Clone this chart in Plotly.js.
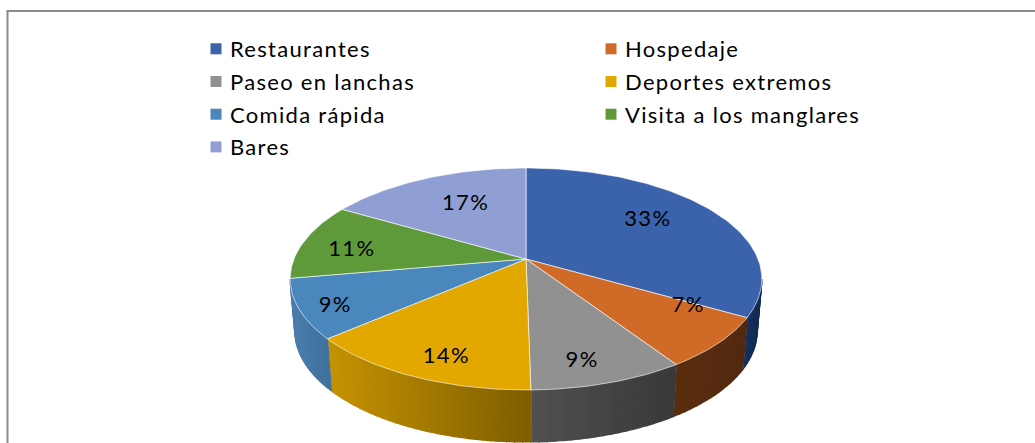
<!DOCTYPE html>
<html>
<head>
<meta charset="utf-8">
<script src="https://cdn.plot.ly/plotly-3.0.1.min.js"></script>
<style>
html,body{margin:0;padding:0;background:#fff}
#chart{width:1035px;height:443px}
.legendpoints .scatterpts{transform:translate(26px,0)}
.legendtext,.legend2text{letter-spacing:1.3px}
.textpoint text{letter-spacing:1.4px}
</style>
</head>
<body>
<div id="chart"></div>
<script>
// Data
const categories = ["Restaurantes","Hospedaje","Paseo en lanchas","Deportes extremos","Comida rápida","Visita a los manglares","Bares"];
const shares = [33.3,7.45,9.0,13.9,8.6,11.2,16.6];

// Styles
const topColors = ["#3a63ab","#d06b27","#919191","#e2a800","#4a87bd","#5f9a3a","#8f9fd3"];
const wallFrom = ["#15305c","#5a2c0e","#505050","#c49200","#4a7dab","#4a7a2c","#6f7da8"];
const wallTo   = ["#122a50","#512a10","#383838","#7c5c00","#40709c","#4a7a2c","#6f7da8"];
const labelRadius = [0.697,0.749,0.816,0.811,0.853,0.77,0.666];
const labelNudgeDeg = [-3.9,-10.7,3,-3.4,-2.6,-3.9,2.9];

// Projection of the tilted disc, in page pixels
const CX=526, APEX_Y=259, RX=232, RY=107.4, TILT=0.18, DEPTH=52, SHRINK=0.98;
function topPoint(a){
  const u=Math.sin(a), v=Math.cos(a), w=1+TILT*v;
  return [CX+RX*u/w, APEX_Y-RY*v/w];
}
function basePoint(a){
  const p=topPoint(a);
  return [CX+(p[0]-CX)*SHRINK, p[1]+DEPTH];
}
function hex(c){return [1,3,5].map(i=>parseInt(c.substr(i,2),16));}
function mix(a,b,t){
  const x=hex(a),y=hex(b);
  return "rgb("+x.map((v,i)=>Math.round(v+(y[i]-v)*t)).join(",")+")";
}

const total=shares.reduce((s,v)=>s+v,0);
const traces=[];
let cum=0;
const slices=shares.map(v=>{const s={a0:cum/total*2*Math.PI};cum+=v;s.a1=cum/total*2*Math.PI;return s;});

// Walls: only the part of the rim that faces the viewer
const FACE0=100.4*Math.PI/180, FACE1=259.6*Math.PI/180;
slices.forEach((s,i)=>{
  const a0=Math.max(s.a0,FACE0), a1=Math.min(s.a1,FACE1);
  if(a1<=a0) return;
  const n=Math.max(2,Math.ceil((a1-a0)/0.03));
  const pa=topPoint(a0)[0], pb=topPoint(a1)[0];
  for(let k=0;k<n;k++){
    const b0=a0+(a1-a0)*k/n, b1=a0+(a1-a0)*(k+1)/n;
    const p0=topPoint(b0),p1=topPoint(b1),q1=basePoint(b1),q0=basePoint(b0);
    const t=(Math.min(p0[0],p1[0])-Math.min(pa,pb))/Math.abs(pa-pb);
    // colour runs left to right over the slice
    const col=mix(wallFrom[i],wallTo[i],Math.max(0,Math.min(1,t)));
    traces.push({type:"scatter",mode:"lines",x:[p0[0],p1[0],q1[0],q0[0],p0[0]],y:[p0[1],p1[1],q1[1],q0[1],p0[1]],
      fill:"toself",fillcolor:col,line:{color:col,width:1.3},hoverinfo:"skip",showlegend:false});
  }
  // pale seam on the wall
  if(s.a1<FACE1){
    const p=topPoint(s.a1),q=basePoint(s.a1);
    traces.push({type:"scatter",mode:"lines",x:[p[0],q[0]],y:[p[1],q[1]],line:{color:"rgba(255,255,255,0.55)",width:1},hoverinfo:"skip",showlegend:false});
  }
});

// Top faces
slices.forEach((s,i)=>{
  const n=Math.ceil((s.a1-s.a0)/0.02), xs=[CX], ys=[APEX_Y];
  for(let k=0;k<=n;k++){const p=topPoint(s.a0+(s.a1-s.a0)*k/n);xs.push(p[0]);ys.push(p[1]);}
  xs.push(CX);ys.push(APEX_Y);
  traces.push({type:"scatter",mode:"lines",x:xs,y:ys,fill:"toself",fillcolor:topColors[i],
    line:{color:"rgba(255,255,255,0.6)",width:1},hoverinfo:"skip",showlegend:false});
});

// Percent labels placed near the slice bisector
const lx=[],ly=[],lt=[];
slices.forEach((s,i)=>{
  const mid=(s.a0+s.a1)/2+labelNudgeDeg[i]*Math.PI/180, p=topPoint(mid);
  lx.push(CX+(p[0]-CX)*labelRadius[i]);
  ly.push(APEX_Y+(p[1]-APEX_Y)*labelRadius[i]);
  lt.push(Math.round(shares[i]/total*100)+"%");
});
traces.push({type:"scatter",mode:"text",x:lx,y:ly,text:lt,textposition:"middle center",
  textfont:{family:"Lato, sans-serif",size:22,color:"#000"},hoverinfo:"skip",showlegend:false});

// Legend entries, two columns
categories.forEach((c,i)=>{
  traces.push({type:"scatter",mode:"markers",x:[null],y:[null],name:c,legendgroup:"g"+i,
    legend:i%2===0?"legend":"legend2",
    marker:{symbol:"square",size:11,color:topColors[i]},hoverinfo:"skip"});
});

const legendBase={xanchor:"left",yanchor:"top",orientation:"v",bgcolor:"rgba(0,0,0,0)",borderwidth:0,
  tracegroupgap:1.1,traceorder:"grouped",entrywidth:340,entrywidthmode:"pixels",
  font:{family:"Lato, sans-serif",size:22,color:"#000"},itemclick:false,itemdoubleclick:false};

const layout={
  width:1035,height:443,margin:{l:0,r:0,t:0,b:0},
  paper_bgcolor:"#fff",plot_bgcolor:"#fff",
  xaxis:{range:[0,1035],visible:false,fixedrange:true},
  yaxis:{range:[443,0],visible:false,fixedrange:true},
  showlegend:true,
  legend:Object.assign({},legendBase,{x:190/1035,y:1-28/443}),
  legend2:Object.assign({},legendBase,{x:585/1035,y:1-28/443}),
  shapes:[
    {type:"line",xref:"paper",yref:"paper",x0:7.5/1035,x1:7.5/1035,y0:0,y1:1-11/443,line:{color:"#8c8c8c",width:2}},
    {type:"line",xref:"paper",yref:"paper",x0:6.5/1035,x1:1,y0:1-11/443,y1:1-11/443,line:{color:"#8c8c8c",width:2}}
  ]
};
Plotly.newPlot("chart",traces,layout,{displayModeBar:false});
</script>
</body>
</html>
